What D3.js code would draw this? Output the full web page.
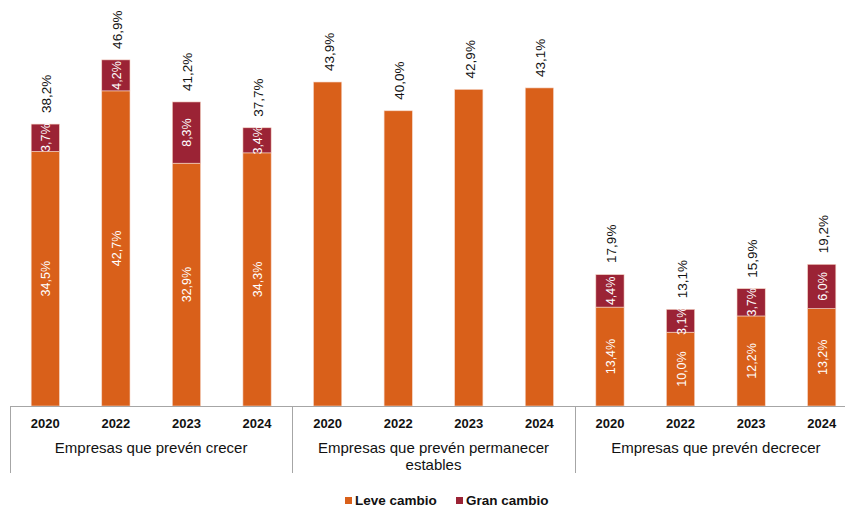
<!DOCTYPE html>
<html>
<head>
<meta charset="utf-8">
<script src="https://cdn.jsdelivr.net/npm/d3@7"></script>
<style>
  body { margin: 0; background: #fff; }
  svg { display: block; }
</style>
</head>
<body>
<svg id="chart" width="845" height="510"></svg>
<script>
// Data
const years = ['2020', '2022', '2023', '2024'];
const groups = ['Empresas que prevén crecer', 'Empresas que prevén permanecer estables', 'Empresas que prevén decrecer'];
const groupLines = [['Empresas que prevén crecer'], ['Empresas que prevén permanecer', 'estables'], ['Empresas que prevén decrecer']];
const leve = [34.5, 42.7, 32.9, 34.3, 43.9, 40.0, 42.9, 43.1, 13.4, 10.0, 12.2, 13.2];
const gran = [3.7, 4.2, 8.3, 3.4, 0, 0, 0, 0, 4.4, 3.1, 3.7, 6.0];
const totals = [38.2, 46.9, 41.2, 37.7, 43.9, 40.0, 42.9, 43.1, 17.9, 13.1, 15.9, 19.2];
const seriesNames = ['Leve cambio', 'Gran cambio'];

const colors = ['#d9601a', '#9b2335'];
const font = "'Liberation Sans', Arial, sans-serif";

const svg = d3.select('#chart');

const left = 10, right = 857, baseY = 406;

// one key per bar: group index + year
const keys = [];
groups.forEach((g, gi) => years.forEach(y => keys.push(gi + '-' + y)));

const x = d3.scaleBand()
    .domain(keys)
    .range([left, right])
    .paddingInner(0.6)
    .paddingOuter(0.3);

const y = d3.scaleLinear()
    .domain([0, 50])
    .range([baseY, baseY - 50 * 7.38]);

const fmt = v => d3.format('.1f')(v).replace('.', ',') + '%';

// stacked data
const rows = keys.map((k, i) => ({ key: k, leve: leve[i], gran: gran[i], total: totals[i] }));
const stack = d3.stack().keys(['leve', 'gran'])(rows);

const layers = svg.append('g')
  .selectAll('g')
  .data(stack)
  .join('g')
    .attr('fill', (d, i) => colors[i]);

layers.selectAll('rect')
  .data(d => d.filter(p => p[1] - p[0] > 0))
  .join('rect')
    .attr('x', d => x(d.data.key))
    .attr('width', x.bandwidth())
    .attr('y', d => y(d[1]))
    .attr('height', d => y(d[0]) - y(d[1]))
    .attr('stroke', '#f6d6c6')
    .attr('stroke-width', 0.6);

// inner labels (only where both segments exist)
stack.forEach((layer, li) => {
  svg.append('g')
    .selectAll('text')
    .data(layer.filter(p => p.data.gran > 0))
    .join('text')
      .attr('transform', d => `translate(${x(d.data.key) + x.bandwidth() / 2 + 5},${y((d[0] + d[1]) / 2)}) rotate(-90)`)
      .attr('text-anchor', 'middle')
      .attr('fill', '#fff')
      .style('font-family', font)
      .style('font-size', '12.5px')
      .text(d => fmt(d[1] - d[0]));
});

// total labels above bars
svg.append('g')
  .selectAll('text')
  .data(rows)
  .join('text')
    .attr('transform', d => `translate(${x(d.key) + x.bandwidth() / 2 + 6},${y(d.total) - 11}) rotate(-90)`)
    .attr('text-anchor', 'start')
    .attr('fill', '#111')
    .style('font-family', font)
    .style('font-size', '13.5px')
    .text(d => fmt(d.total));

// axis line and group separators
const axis = svg.append('g').attr('stroke', '#a6a6a6').attr('stroke-width', 1);
axis.append('line')
    .attr('x1', left).attr('x2', right)
    .attr('y1', baseY + 0.5).attr('y2', baseY + 0.5);

const groupBounds = groups.map((g, gi) => {
  const step = x.step();
  const first = x(gi + '-' + years[0]);
  const last = x(gi + '-' + years[years.length - 1]);
  return [first - step * 0.3, last + x.bandwidth() + step * 0.3];
});

groupBounds.forEach(b => {
  axis.append('line')
      .attr('x1', Math.round(b[0]) + 0.5).attr('x2', Math.round(b[0]) + 0.5)
      .attr('y1', baseY).attr('y2', 473);
});

// year tick labels
svg.append('g')
  .selectAll('text')
  .data(keys)
  .join('text')
    .attr('x', d => x(d) + x.bandwidth() / 2)
    .attr('y', 428)
    .attr('text-anchor', 'middle')
    .attr('fill', '#111')
    .style('font-family', font)
    .style('font-weight', 'bold')
    .style('font-size', '13px')
    .text(d => d.split('-')[1]);

// group labels
groupLines.forEach((lines, gi) => {
  const cx = (groupBounds[gi][0] + groupBounds[gi][1]) / 2;
  const t = svg.append('text')
      .attr('text-anchor', 'middle')
      .attr('fill', '#111')
      .style('font-family', font)
      .style('font-size', '15px');
  lines.forEach((ln, li) => {
    t.append('tspan')
      .attr('x', cx)
      .attr('y', 453 + li * 17)
      .text(ln);
  });
});

// legend
const legendX = [345, 456];
const legend = svg.append('g');
seriesNames.forEach((name, i) => {
  legend.append('rect')
      .attr('x', legendX[i])
      .attr('y', 497)
      .attr('width', 7)
      .attr('height', 7)
      .attr('fill', colors[i]);
  legend.append('text')
      .attr('x', legendX[i] + 10)
      .attr('y', 505)
      .attr('fill', '#111')
      .style('font-family', font)
      .style('font-weight', 'bold')
      .style('font-size', '13.5px')
      .text(name);
});
</script>
</body>
</html>
